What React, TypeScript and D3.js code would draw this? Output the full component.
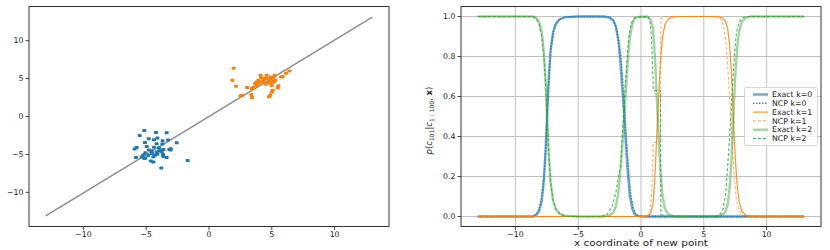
import React from 'react';
import * as d3 from 'd3';

// left panel: the two clusters and the fitted line
const blueX = [-5.15, -3.37, -4.22, -5.52, -4.8, -4.11, -3.69, -4.38, -3.26, -2.57, -5.1, -4.17, -3.71, -4.96, -4.38, -5.76, -3.98, -5.92, -3.16, -4.78, -3.61, -3.9, -3.05, -5.07, -4.54, -4.11, -3.66, -4.83, -4.27, -3.37, -5.81, -5.36, -5.07, -4.43, -3.64, -3.95, -4.56, -1.7, -4.64, -4.43, -3.8, -5.15, -4.17, -3.77, -5.23, -3.05];
const blueY = [-1.84, -2.15, -2.11, -2.5, -2.94, -2.85, -3.2, -3.07, -3.11, -3.46, -3.42, -3.6, -3.64, -3.95, -4.04, -4.08, -4.12, -4.3, -4.34, -4.43, -4.34, -4.43, -4.43, -4.78, -4.87, -4.96, -5.0, -5.13, -5.09, -5.39, -5.39, -5.35, -5.48, -5.31, -5.26, -4.56, -4.52, -5.79, -5.88, -6.0, -6.8, -5.53, -4.69, -4.65, -5.09, -4.25];
const orangeX = [1.96, 1.86, 2.15, 3.03, 2.52, 2.65, 3.4, 3.37, 3.42, 3.66, 3.8, 4.11, 4.14, 4.33, 4.01, 4.54, 4.75, 4.91, 5.12, 5.23, 5.07, 4.83, 4.99, 4.51, 4.25, 5.52, 5.47, 5.07, 4.99, 4.86, 4.78, 5.73, 5.87, 6.13, 6.4, 3.93, 4.59, 3.53, 4.72, 4.41, 5.17, 3.8, 4.91, 5.28];
const orangeY = [6.36, 4.78, 3.99, 3.82, 2.72, 2.81, 3.68, 2.89, 2.5, 4.34, 4.56, 5.44, 5.13, 4.78, 4.43, 5.09, 4.91, 5.22, 5.13, 5.44, 4.65, 4.43, 4.08, 4.25, 4.61, 4.04, 3.77, 3.46, 3.2, 2.81, 2.59, 5.22, 5.26, 5.7, 6.0, 4.78, 5.44, 3.82, 4.52, 4.96, 4.56, 4.12, 4.87, 4.78];
const fitX = [-13, 13];
const fitY = [-13.1, 13.1];

const xTicks = [-10, -5, 0, 5, 10];
const leftYTicks = [-10, -5, 0, 5, 10];
const rightYTicks = [0, 0.2, 0.4, 0.6, 0.8, 1.0];

// right panel: posterior of the new point's cluster, [x, p]
const exactK0 = [[-13, 0], [-8.6, 0], [-8.3, 0.01], [-8.1, 0.03], [-7.9, 0.08], [-7.75, 0.17], [-7.6, 0.32], [-7.48, 0.5], [-7.35, 0.68], [-7.2, 0.83], [-7.0, 0.92], [-6.8, 0.96], [-6.5, 0.985], [-6.0, 0.997], [-5.0, 1], [-3.0, 1], [-2.5, 0.995], [-2.2, 0.98], [-2.0, 0.95], [-1.8, 0.88], [-1.65, 0.78], [-1.5, 0.65], [-1.33, 0.5], [-1.2, 0.36], [-1.05, 0.22], [-0.9, 0.11], [-0.7, 0.04], [-0.5, 0.01], [-0.2, 0.002], [0.3, 0], [13, 0]];
const ncpK0 = [[-13, 0], [-8.6, 0], [-8.3, 0.015], [-8.1, 0.04], [-7.9, 0.1], [-7.72, 0.2], [-7.6, 0.33], [-7.48, 0.5], [-7.35, 0.67], [-7.2, 0.82], [-7.0, 0.92], [-6.75, 0.97], [-6.4, 0.99], [-6.0, 0.998], [-5.0, 1], [-3.0, 1], [-2.5, 0.995], [-2.2, 0.98], [-2.0, 0.95], [-1.8, 0.89], [-1.6, 0.8], [-1.55, 0.75], [-1.5, 0.72], [-1.4, 0.62], [-1.27, 0.5], [-1.12, 0.35], [-0.95, 0.2], [-0.8, 0.1], [-0.6, 0.04], [-0.4, 0.01], [0, 0], [13, 0]];
const exactK1 = [[-13, 0], [0.5, 0], [0.6, 0.005], [0.8, 0.02], [0.95, 0.06], [1.05, 0.14], [1.15, 0.25], [1.25, 0.4], [1.33, 0.5], [1.42, 0.62], [1.55, 0.78], [1.7, 0.89], [1.9, 0.96], [2.2, 0.99], [2.6, 0.998], [3, 1], [6.0, 1], [6.4, 0.995], [6.7, 0.98], [6.9, 0.94], [7.05, 0.86], [7.2, 0.72], [7.35, 0.5], [7.5, 0.3], [7.65, 0.16], [7.8, 0.08], [8.0, 0.03], [8.3, 0.008], [8.7, 0], [13, 0]];
const ncpK1 = [[-13, 0], [0.5, 0], [0.65, 0.01], [0.75, 0.04], [0.85, 0.12], [0.92, 0.25], [0.98, 0.37], [1.55, 0.37], [1.58, 0.99], [2.0, 1], [6.0, 1], [6.3, 0.99], [6.55, 0.96], [6.75, 0.88], [6.9, 0.75], [7.05, 0.6], [7.15, 0.5], [7.3, 0.33], [7.45, 0.18], [7.6, 0.08], [7.8, 0.03], [8.1, 0.005], [8.5, 0], [13, 0]];
const exactK2 = [[-13, 1], [-8.6, 1], [-8.3, 0.99], [-8.1, 0.97], [-7.9, 0.92], [-7.75, 0.83], [-7.6, 0.68], [-7.48, 0.5], [-7.35, 0.32], [-7.2, 0.17], [-7.0, 0.08], [-6.8, 0.04], [-6.5, 0.015], [-6.0, 0.003], [-5.0, 0], [-3.0, 0], [-2.5, 0.005], [-2.2, 0.02], [-2.0, 0.05], [-1.8, 0.12], [-1.65, 0.22], [-1.5, 0.35], [-1.33, 0.5], [-1.2, 0.64], [-1.05, 0.78], [-0.9, 0.89], [-0.7, 0.96], [-0.5, 0.99], [-0.2, 0.998], [0.5, 1], [0.6, 0.995], [0.8, 0.98], [0.95, 0.94], [1.05, 0.86], [1.15, 0.75], [1.25, 0.6], [1.33, 0.5], [1.42, 0.38], [1.55, 0.22], [1.7, 0.11], [1.9, 0.04], [2.2, 0.01], [2.6, 0.002], [3, 0], [6.0, 0], [6.4, 0.005], [6.7, 0.02], [6.9, 0.06], [7.05, 0.14], [7.2, 0.28], [7.35, 0.5], [7.5, 0.7], [7.65, 0.84], [7.8, 0.92], [8.0, 0.97], [8.3, 0.992], [8.7, 1], [13, 1]];
const ncpK2 = [[-13, 1], [-8.6, 1], [-8.3, 0.985], [-8.1, 0.96], [-7.9, 0.9], [-7.72, 0.8], [-7.6, 0.67], [-7.48, 0.5], [-7.35, 0.33], [-7.2, 0.18], [-7.0, 0.08], [-6.75, 0.03], [-6.4, 0.01], [-6.0, 0.002], [-5.0, 0], [-3.2, 0], [-2.7, 0.01], [-2.3, 0.05], [-2.0, 0.12], [-1.8, 0.2], [-1.62, 0.25], [-1.5, 0.38], [-1.4, 0.5], [-1.25, 0.66], [-1.1, 0.8], [-0.95, 0.91], [-0.75, 0.97], [-0.5, 0.995], [0.5, 1], [0.65, 0.99], [0.75, 0.96], [0.85, 0.88], [0.92, 0.75], [0.98, 0.63], [1.55, 0.63], [1.58, 0.01], [2.0, 0], [6.0, 0], [6.3, 0.01], [6.55, 0.04], [6.75, 0.12], [6.9, 0.25], [7.05, 0.4], [7.15, 0.5], [7.3, 0.67], [7.45, 0.82], [7.6, 0.92], [7.8, 0.97], [8.1, 0.995], [8.5, 1], [13, 1]];

const legendLabels = ['Exact k=0', 'NCP k=0', 'Exact k=1', 'NCP k=1', 'Exact k=2', 'NCP k=2'];

const BLUE = '#1f77b4';
const ORANGE = '#ff7f0e';
const GREEN = '#2ca02c';

const series = [
  { data: exactK0, color: BLUE, width: 2.4, dash: null, opacity: 0.65 },
  { data: ncpK0, color: BLUE, width: 1.4, dash: '1.4,1.6', opacity: 0.9 },
  { data: exactK1, color: ORANGE, width: 1.2, dash: null, opacity: 0.85 },
  { data: ncpK1, color: ORANGE, width: 1.1, dash: '3,2', opacity: 0.6 },
  { data: exactK2, color: GREEN, width: 2.4, dash: null, opacity: 0.45 },
  { data: ncpK2, color: GREEN, width: 1.1, dash: '3,2', opacity: 0.8 },
];

const FONT = 'DejaVu Sans';
const fs = 7.8;
const ink = '#1a1a1a';

const fmt = (t: number) => (t < 0 ? '\u2212' + Math.abs(t) : String(t));

const App = () => {
  // left axes
  const L = { left: 29, right: 389, top: 6.5, bottom: 226.5 };
  const lx = d3.scaleLinear().domain([-14.33, 14.33]).range([L.left, L.right]);
  const ly = d3.scaleLinear().domain([-14.5, 14.5]).range([L.bottom, L.top]);

  // right axes
  const R = { left: 461, right: 821, top: 6.5, bottom: 226.5 };
  const rx = d3.scaleLinear().domain([-14.33, 14.33]).range([R.left, R.right]);
  const ry = d3.scaleLinear().domain([-0.05, 1.05]).range([R.bottom, R.top]);

  const fitLine = d3.line<number>().x((d) => lx(fitX[d])).y((d) => ly(fitY[d]));
  const curve = d3.line<number[]>().x((d) => rx(d[0])).y((d) => ry(d[1]));

  return (
    <svg width={830} height={250} style={{ position: 'absolute', left: 0, top: 0, background: '#fff' }} fontFamily={FONT}>
      {/* ---------- left panel ---------- */}
      <path d={fitLine([0, 1]) || ''} stroke="#888" strokeWidth={1.2} fill="none" />
      {blueX.map((x, i) => (
        <rect key={'b' + i} x={lx(x) - 2} y={ly(blueY[i]) - 1.5} width={4} height={3} rx={0.8} fill={BLUE} />
      ))}
      {orangeX.map((x, i) => (
        <rect key={'o' + i} x={lx(x) - 2} y={ly(orangeY[i]) - 1.5} width={4} height={3} rx={0.8} fill={ORANGE} />
      ))}
      <rect x={L.left} y={L.top} width={L.right - L.left} height={L.bottom - L.top} fill="none" stroke="#333" strokeWidth={1} />
      {xTicks.map((t) => (
        <g key={'lx' + t} transform={`translate(${lx(t)},${L.bottom})`}>
          <line y2={3.5} stroke={ink} strokeWidth={0.8} />
          <text y={10.5} textAnchor="middle" fontSize={fs} fill={ink}>{fmt(t)}</text>
        </g>
      ))}
      {leftYTicks.map((t) => (
        <g key={'ly' + t} transform={`translate(${L.left},${ly(t)})`}>
          <line x2={-3.5} stroke={ink} strokeWidth={0.8} />
          <text x={-5.5} dy="0.35em" textAnchor="end" fontSize={fs} fill={ink}>{fmt(t)}</text>
        </g>
      ))}

      {/* ---------- right panel ---------- */}
      {xTicks.map((t) => (
        <line key={'gx' + t} x1={rx(t)} x2={rx(t)} y1={R.top} y2={R.bottom} stroke="#b0b0b0" strokeWidth={0.8} />
      ))}
      {rightYTicks.map((t) => (
        <line key={'gy' + t} x1={R.left} x2={R.right} y1={ry(t)} y2={ry(t)} stroke="#b0b0b0" strokeWidth={0.8} />
      ))}
      {series.map((s, i) => (
        <path key={'s' + i} d={curve(s.data) || ''} fill="none" stroke={s.color} strokeWidth={s.width}
          strokeDasharray={s.dash || undefined} strokeOpacity={s.opacity} />
      ))}
      <rect x={R.left} y={R.top} width={R.right - R.left} height={R.bottom - R.top} fill="none" stroke="#333" strokeWidth={1} />
      {xTicks.map((t) => (
        <g key={'rx' + t} transform={`translate(${rx(t)},${R.bottom})`}>
          <line y2={3.5} stroke={ink} strokeWidth={0.8} />
          <text y={10.5} textAnchor="middle" fontSize={fs} fill={ink}>{fmt(t)}</text>
        </g>
      ))}
      {rightYTicks.map((t) => (
        <g key={'ry' + t} transform={`translate(${R.left},${ry(t)})`}>
          <line x2={-3.5} stroke={ink} strokeWidth={0.8} />
          <text x={-5.5} dy="0.35em" textAnchor="end" fontSize={fs} fill={ink}>{t.toFixed(1)}</text>
        </g>
      ))}
      <text x={(R.left + R.right) / 2} y={245.5} textAnchor="middle" fontSize={8.3} fill={ink}
        textLength={134} lengthAdjust="spacingAndGlyphs">x coordinate of new point</text>
      <text transform={`translate(432,${(R.top + R.bottom) / 2 + 4}) rotate(-90)`} textAnchor="middle" fontSize={8.5} fill={ink}>
        <tspan fontStyle="italic">p</tspan>(<tspan fontStyle="italic">c</tspan>
        <tspan fontSize={6} dy={1.8}>101</tspan>
        <tspan dy={-1.8}>|</tspan><tspan fontStyle="italic">c</tspan>
        <tspan fontSize={6} dy={1.8}>1 : 100</tspan>
        <tspan dy={-1.8}>, </tspan><tspan fontWeight="bold">x</tspan>)
      </text>

      {/* legend */}
      <rect x={744.5} y={87.5} width={73} height={58} rx={2} fill="#fff" fillOpacity={0.8} stroke="#ccc" strokeWidth={0.8} />
      {legendLabels.map((lab, i) => {
        const s = series[i];
        const yy = 94.5 + i * 8.8;
        return (
          <g key={'lg' + i}>
            <line x1={753} x2={768} y1={yy} y2={yy} stroke={s.color} strokeWidth={s.width}
              strokeDasharray={s.dash || undefined} strokeOpacity={s.opacity} />
            <text x={772} y={yy} dy="0.35em" fontSize={7.8} fill={ink}>{lab}</text>
          </g>
        );
      })}
    </svg>
  );
};

export default App;
